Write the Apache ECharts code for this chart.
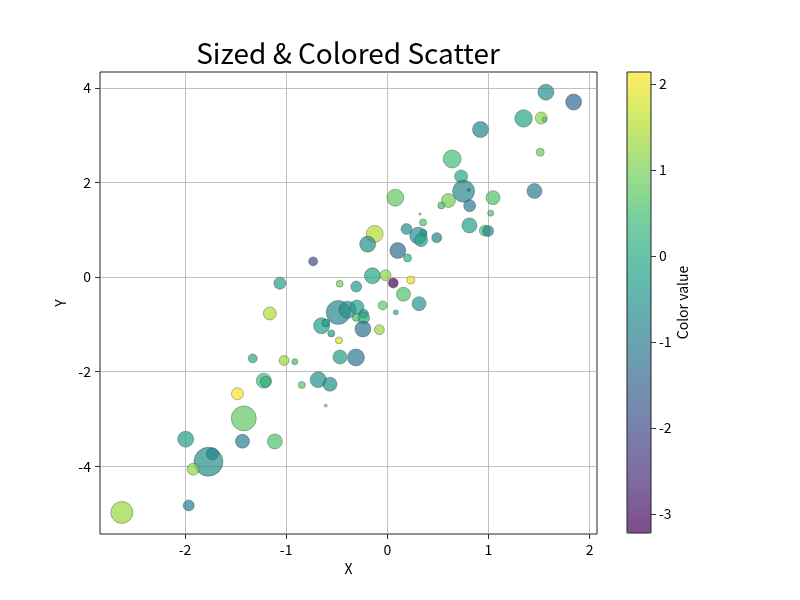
<!DOCTYPE html>
<html>
<head>
<meta charset="utf-8">
<title>Sized & Colored Scatter</title>
<script src="https://cdn.jsdelivr.net/npm/echarts@6/dist/echarts.min.js"></script>
<style>
  html, body { margin: 0; padding: 0; background: #fff; }
  #scatter { width: 800px; height: 600px; }
</style>
</head>
<body>
<div id="scatter"></div>
<script>
// values
const xs = [1.568, 1.842, 1.347, 1.522, 1.554, 0.921, 1.512, 0.641, 0.730, 0.754, 0.806, 1.455, 1.045, 0.604, 0.534, 0.814, 1.022, 0.079, 0.324, 0.353,
  0.812, 0.964, 0.997, 0.190, 0.306, 0.358, 0.334, 0.489, -0.125, -0.194, 0.104, 0.200, -0.147, -0.018, 0.059, 0.232, -0.471, -0.307, 0.160, 0.314,
  -0.046, -1.062, -0.733, -1.161, 0.084, -0.485, -0.392, -0.300, -0.231, -0.234, -0.307, -0.650, -0.607, -0.241, -0.079, -0.554, -0.478, -1.330, -1.020, -0.914,
  -0.468, -0.310, -1.221, -1.201, -0.683, -0.567, -0.845, -1.481, -0.609, -1.419, -1.993, -1.432, -1.112, -1.768, -1.729, -1.919, -1.963, -2.624];
const ys = [3.907, 3.700, 3.353, 3.362, 3.332, 3.118, 2.638, 2.495, 2.127, 1.814, 1.839, 1.818, 1.677, 1.619, 1.514, 1.507, 1.349, 1.677, 1.332, 1.154,
  1.091, 0.979, 0.973, 1.015, 0.873, 0.930, 0.778, 0.831, 0.911, 0.693, 0.560, 0.402, 0.027, 0.038, -0.127, -0.063, -0.142, -0.201, -0.364, -0.564,
  -0.600, -0.131, 0.330, -0.770, -0.748, -0.748, -0.691, -0.634, -0.776, -0.867, -0.854, -1.030, -0.972, -1.099, -1.114, -1.192, -1.340, -1.721, -1.765, -1.791,
  -1.691, -1.700, -2.192, -2.214, -2.171, -2.266, -2.283, -2.467, -2.717, -2.989, -3.429, -3.471, -3.476, -3.905, -3.736, -4.063, -4.829, -4.977];
// marker areas (matplotlib "s", points^2)
const sizes = [104, 104, 125, 59, 10, 104, 26, 132, 69, 197, 4, 92, 80, 80, 20, 59, 15, 118, 2, 20,
  92, 49, 49, 49, 118, 20, 69, 41, 118, 104, 104, 26, 104, 49, 41, 26, 20, 49, 80, 80,
  33, 59, 33, 69, 10, 235, 118, 80, 33, 59, 26, 104, 26, 104, 41, 20, 20, 33, 41, 15,
  80, 118, 92, 49, 104, 80, 20, 59, 4, 254, 104, 80, 92, 342, 59, 59, 49, 197];
const colorVals = [-0.6, -1.4, -0.1, 1.2, 0.7, -0.8, 0.9, 0.5, 0.0, -0.7, -1.0, -1.0, 0.6, 1.0, 0.5, -1.0, 0.6, 0.8, 0.8, 0.6,
  -0.2, 0.6, -0.8, -0.6, -0.6, -0.3, -0.1, -0.9, 1.5, -0.6, -1.3, 0.2, -0.1, 1.2, -3.2, 1.95, 1.0, -0.3, 0.6, -0.4,
  0.8, -0.2, -2.0, 1.5, 0.0, -0.8, -0.6, -0.3, -0.3, 0.0, 0.5, -0.2, -0.4, -1.2, 1.3, -0.3, 1.8, 0.0, 1.3, 0.5,
  -0.2, -1.1, 0.5, 0.1, -0.5, -0.6, 0.7, 2.1, 1.2, 0.8, -0.2, -1.0, 0.6, -0.6, -0.8, 1.2, -0.9, 1.3];

const xTicks = [-2, -1, 0, 1, 2];
const yTicks = [-4, -2, 0, 2, 4];
const colorTicks = [-3, -2, -1, 0, 1, 2];
const xRange = [-2.84, 2.073];
const yRange = [-5.433, 4.334];
const colorRange = [-3.22, 2.14];

const viridis = ['#440154', '#482878', '#3e4989', '#31688e', '#26828e', '#1f9e89', '#35b779', '#6ece58', '#b5de2b', '#fde725'];
// same stops seen through alpha 0.7 on white, for the colorbar
const viridisFaded = ['#7c4d87', '#7f69a1', '#7880ac', '#6f95b0', '#67a8b0', '#62bbac', '#72cda1', '#9add8a', '#cbe86b', '#feee66'];

const points = xs.map((x, i) => [x, ys[i], sizes[i], colorVals[i]]);

const font = "'Noto Sans CJK SC', 'Noto Sans', sans-serif";
const tickStyle = { show: true, length: 5, lineStyle: { color: '#000', width: 0.8 } };

const chart = echarts.init(document.getElementById('scatter'));
const option = {
  animation: false,
  textStyle: { fontFamily: font },
  title: {
    text: 'Sized & Colored Scatter',
    left: 348,
    top: 39,
    padding: 0,
    textAlign: 'center',
    textStyle: { fontSize: 28, fontWeight: 'normal', color: '#000', fontFamily: font },
  },
  grid: [
    { left: 100, top: 72, width: 497, height: 462, show: true, borderColor: '#222', borderWidth: 1, outerBoundsMode: 'none', containLabel: false },
    { left: 627, top: 72, width: 24, height: 461, show: true, z: 10, backgroundColor: 'transparent', borderColor: '#222', borderWidth: 1, outerBoundsMode: 'none', containLabel: false },
  ],
  xAxis: [
    {
      gridIndex: 0,
      type: 'value',
      min: xRange[0],
      max: xRange[1],
      name: 'X',
      nameLocation: 'middle',
      nameGap: 27,
      nameTextStyle: { fontSize: 14, color: '#000', fontFamily: font },
      axisLine: { show: false, onZero: false },
      axisTick: Object.assign({ customValues: xTicks }, tickStyle),
      axisLabel: { customValues: xTicks, margin: 9, fontSize: 14, color: '#000', fontFamily: font },
      splitLine: { show: true, lineStyle: { color: '#b0b0b0', width: 0.8 } },
    },
    { gridIndex: 1, type: 'value', min: 0, max: 1, show: false },
  ],
  yAxis: [
    {
      gridIndex: 0,
      type: 'value',
      min: yRange[0],
      max: yRange[1],
      name: 'Y',
      nameLocation: 'middle',
      nameRotate: 90,
      nameGap: 31,
      nameTextStyle: { fontSize: 14, color: '#000', fontFamily: font },
      axisLine: { show: false, onZero: false },
      axisTick: Object.assign({ customValues: yTicks }, tickStyle),
      axisLabel: { customValues: yTicks, margin: 9, fontSize: 14, color: '#000', fontFamily: font },
      splitLine: { show: true, lineStyle: { color: '#b0b0b0', width: 0.8 } },
    },
    {
      gridIndex: 1,
      type: 'value',
      position: 'right',
      min: colorRange[0],
      max: colorRange[1],
      name: 'Color value',
      nameLocation: 'middle',
      nameRotate: 90,
      nameGap: 25,
      nameTextStyle: { fontSize: 14, color: '#000', fontFamily: font },
      axisLine: { show: false, onZero: false },
      axisTick: Object.assign({ customValues: colorTicks }, tickStyle),
      axisLabel: { customValues: colorTicks, margin: 8, fontSize: 14, color: '#000', fontFamily: font },
      splitLine: { show: false },
    },
  ],
  visualMap: {
    type: 'continuous',
    seriesIndex: 0,
    dimension: 3,
    min: colorRange[0],
    max: colorRange[1],
    left: 627,
    top: 72,
    padding: 0,
    itemWidth: 24,
    itemHeight: 461,
    calculable: false,
    hoverLink: false,
    inRange: { color: viridis },
    controller: { inRange: { color: viridisFaded } },
  },
  series: [
    {
      type: 'scatter',
      xAxisIndex: 0,
      yAxisIndex: 0,
      data: points,
      symbolSize: (v) => 2 * Math.sqrt(v[2] / Math.PI) * 100 / 72,
      itemStyle: { opacity: 0.7, borderColor: '#333', borderWidth: 0.5 },
      emphasis: { disabled: true },
    },
  ],
};
chart.setOption(option);
</script>
</body>
</html>
